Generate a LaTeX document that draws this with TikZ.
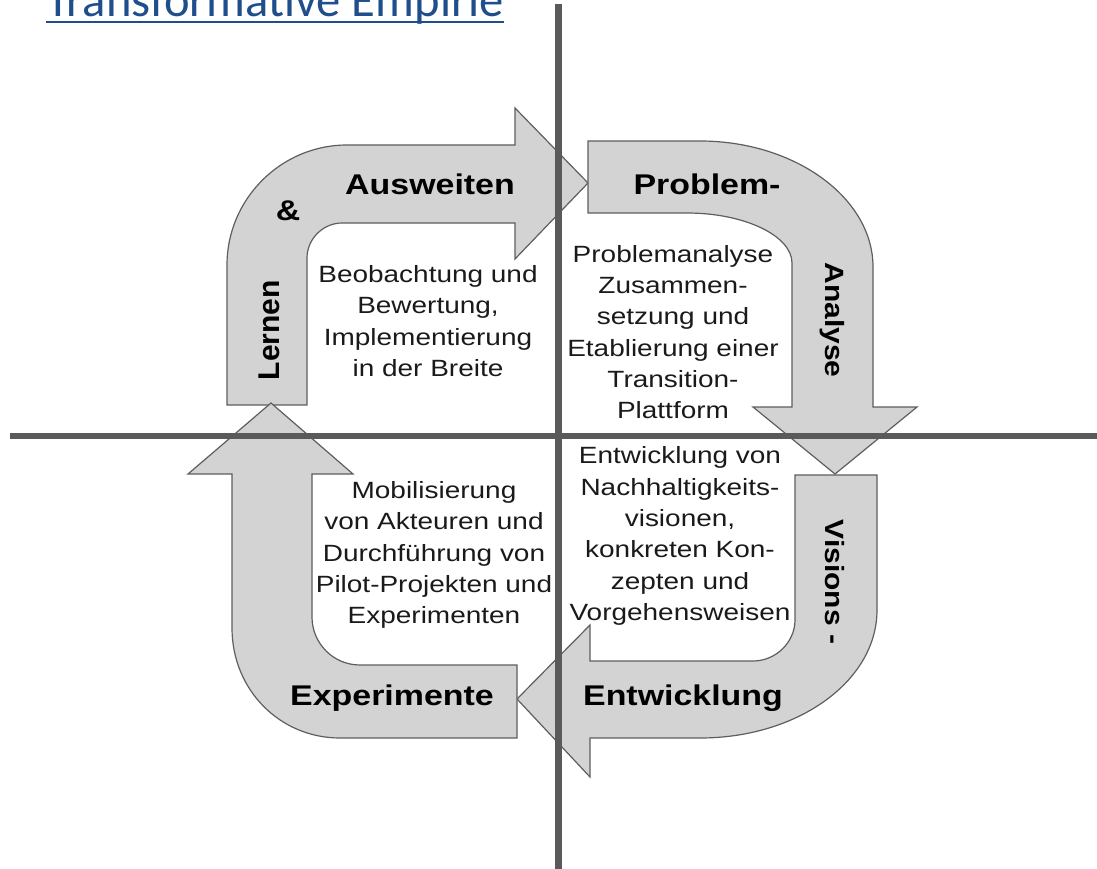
\documentclass[tikz,border=0pt]{standalone}
\usepackage{fontspec}
\setmainfont{Liberation Sans}
\newfontfamily\titlefont{Carlito}
\definecolor{linkblue}{HTML}{1F4E8C}
\definecolor{bandgray}{HTML}{D3D3D3}
\definecolor{rimgray}{HTML}{5E5E5E}
\definecolor{axisgray}{HTML}{5A5A5A}
\definecolor{inktext}{HTML}{1A1A1A}

\begin{document}
\begin{tikzpicture}[x=1pt, y=-1pt,
		band/.style={fill=bandgray, draw=rimgray, line width=1.2pt},
		axis/.style={axisgray, line width=7pt},
		phase/.style={font=\bfseries\fontsize{28.5}{30}\selectfont, text=black, inner sep=0pt, xscale=1.19},
		sidephase/.style={font=\bfseries\fontsize{30}{30}\selectfont, text=black, inner sep=0pt},
		descr/.style={font=\fontsize{23.5}{31.3}\selectfont, text=inktext, align=center, inner sep=0pt, xscale=1.19}]
		\useasboundingbox (0,0) rectangle (1097,869);

		% title
		\node[font=\titlefont\fontsize{48.6}{48.6}\selectfont, text=linkblue, anchor=base west, inner sep=0pt] (title) at (46,17) {Transformative Empirie};
		\draw[linkblue, line width=2.6pt] ([yshift=-5pt]title.base west) -- ([yshift=-5pt]title.base east);

		% the four bent arrows
		\draw[band] (227,405) -- (227,265) .. controls (227,199) and (281,145) .. (347,145) -- (515,145) -- (515,108) -- (588,183) -- (515,259) -- (515,223) -- (342,223) .. controls (323,223) and (307,239) .. (307,258) -- (307,405) -- cycle;
		\draw[band] (588,141) -- (700,141) .. controls (795,141) and (873,198) .. (873,267) -- (873,407) -- (917,407) -- (835,474) -- (753,407) -- (792,407) -- (792,263) .. controls (792,236) and (745,213) .. (687,213) -- (588,213) -- cycle;
		\draw[band] (797,475) -- (877,475) -- (877,610) .. controls (877,681) and (798,738) .. (700,738) -- (590,738) -- (590,777) -- (517,699) -- (590,625) -- (590,661) -- (753,661) .. controls (776,661) and (795,642) .. (795,620) -- (795,475) -- cycle;
		\draw[band] (517,738) -- (340,738) .. controls (280,738) and (232,690) .. (232,628) -- (232,474) -- (188,474) -- (271,403) -- (353,474) -- (312,474) -- (312,617) .. controls (312,643) and (333,665) .. (360,665) -- (517,665) -- cycle;

		% axes
		\draw[axis] (558,4) -- (558,869);
		\draw[axis, line width=6pt] (10,436) -- (1097,436);

		% phase labels
		\node[phase, anchor=base] (ausweiten) at (430,194) {Ausweiten};
		\node[phase, anchor=base] (und) at (288,221) {\&};
		\node[sidephase, rotate=90] (lernen) at (269,330) {Lernen};
		\node[phase, anchor=base] (problem) at (707,194) {Problem-};
		\node[sidephase, xscale=0.88, rotate=-90] (analyse) at (832,320) {Analyse};
		\node[sidephase, xscale=0.88, rotate=-90] (visions) at (835,582) {Visions -};
		\node[phase, anchor=base] (entwicklung) at (683,705) {Entwicklung};
		\node[phase, anchor=base] (experimente) at (392,705) {Experimente};

		% descriptions
		\node[descr] (beobachtung) at (428,321) {Beobachtung und\\Bewertung,\\Implementierung\\in der Breite};
		\node[descr] (problemanalyse) at (673,332) {Problemanalyse\\Zusammen-\\setzung und\\Etablierung einer\\Transition-\\Plattform};
		\node[descr] (mobilisierung) at (434,555) {Mobilisierung\\von Akteuren und\\Durchführung von\\Pilot-Projekten und\\Experimenten};
		\node[descr] (nachhaltigkeit) at (680,536) {Entwicklung von\\Nachhaltigkeits-\\visionen,\\konkreten Kon-\\zepten und\\Vorgehensweisen};

	\end{tikzpicture}
\end{document}
